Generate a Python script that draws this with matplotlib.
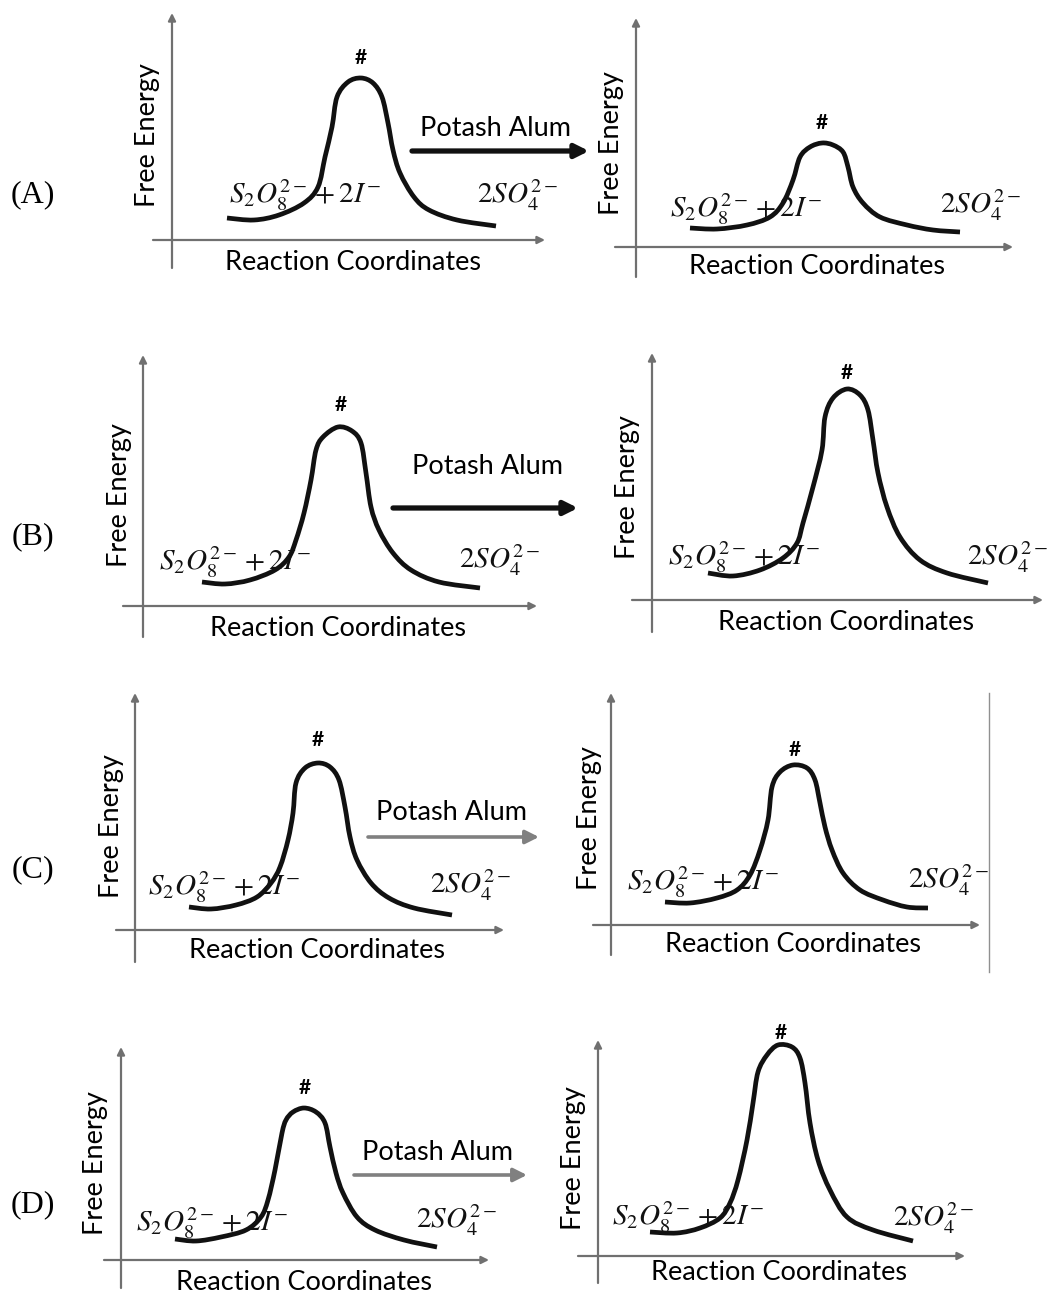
import numpy as np
import matplotlib.pyplot as plt
from matplotlib.path import Path
from matplotlib.patches import PathPatch

# canvas size in pixels (dpi 100)
W, H = 1052, 1292

# texts
row_labels = ['(A)', '(B)', '(C)', '(D)']
catalyst = 'Potash Alum'
reactants = r'$S_2O_8^{2-}+2I^{-}$'
products = r'$2SO_4^{2-}$'
x_title = 'Reaction Coordinates'
y_title = 'Free Energy'

# energy profiles: reaction coordinate and free energy
# (arbitrary units, measured from the axis origin of each panel)
a_left_x = [55, 82, 107, 132, 146, 153, 160, 165, 176, 189, 201, 210, 216, 221, 228, 242, 257, 285, 324]
a_left_g = [22, 20, 25, 37, 53, 83, 113, 143, 158, 162, 157, 143, 117, 90, 67, 43, 30, 20, 14]
a_right_x = [54, 81, 111, 134, 147, 157, 164, 174, 186, 197, 207, 212, 217, 227, 244, 271, 297, 324]
a_right_g = [19, 18, 22, 30, 44, 67, 90, 100, 104, 102, 95, 80, 60, 44, 30, 22, 17, 15]

b_left_x = [59, 82, 107, 132, 146, 153, 161, 168, 173, 180, 195, 209, 218, 223, 228, 236, 250, 268, 296, 337]
b_left_g = [24, 22, 26, 36, 49, 66, 93, 126, 156, 169, 179, 175, 163, 133, 99, 76, 53, 36, 24, 18]
b_right_x = [56, 81, 108, 131, 145, 151, 161, 170, 173, 181, 195, 208, 216, 221, 226, 235, 248, 268, 295, 336]
b_right_g = [27, 24, 30, 42, 57, 77, 113, 150, 183, 202, 211, 205, 190, 160, 127, 93, 63, 40, 27, 17]

c_left_x = [54, 76, 101, 122, 136, 145, 153, 158, 161, 170, 183, 195, 204, 210, 215, 222, 236, 254, 279, 317]
c_left_g = [23, 21, 25, 33, 47, 63, 90, 117, 147, 162, 167, 163, 150, 123, 93, 70, 47, 32, 22, 15]
c_right_x = [54, 79, 106, 126, 139, 149, 157, 161, 169, 182, 196, 204, 209, 214, 221, 232, 249, 272, 296, 317]
c_right_g = [23, 22, 27, 35, 50, 75, 105, 138, 153, 160, 157, 145, 122, 98, 75, 52, 35, 25, 18, 17]

d_left_x = [54, 75, 100, 125, 140, 147, 154, 161, 165, 172, 183, 195, 204, 209, 215, 222, 236, 254, 283, 316]
d_left_g = [21, 19, 23, 30, 43, 60, 90, 127, 140, 148, 152, 148, 137, 113, 87, 67, 43, 30, 20, 13]
d_right_x = [52, 79, 102, 122, 132, 140, 149, 155, 160, 169, 180, 194, 202, 207, 212, 220, 232, 249, 275, 315]
d_right_g = [24, 23, 28, 38, 53, 76, 116, 153, 184, 201, 211, 209, 198, 173, 133, 96, 66, 39, 26, 15]

curves = [(a_left_x, a_left_g), (a_right_x, a_right_g),
          (b_left_x, b_left_g), (b_right_x, b_right_g),
          (c_left_x, c_left_g), (c_right_x, c_right_g),
          (d_left_x, d_left_g), (d_right_x, d_right_g)]

# layout of every panel: origin in canvas px, axis extents, text anchors
panels = [
    dict(origin=(172, 240), xlim=(-19, 373), ylim=(-28, 227), hash=(189, 182), react=(57, 45), prod=(305, 45), fe=(-24, 105), rc=(181, -22)),
    dict(origin=(636, 247), xlim=(-21, 377), ylim=(-30, 229), hash=(186, 124), react=(34, 38), prod=(304, 42), fe=(-24, 104), rc=(181, -20)),
    dict(origin=(143, 606), xlim=(-20, 394), ylim=(-31, 251), hash=(198, 201), react=(16, 44), prod=(316, 46), fe=(-23, 111), rc=(195, -22)),
    dict(origin=(652, 600), xlim=(-20, 391), ylim=(-32, 247), hash=(195, 227), react=(16, 43), prod=(315, 43), fe=(-24, 113), rc=(194, -22)),
    dict(origin=(135, 930), xlim=(-19, 369), ylim=(-32, 237), hash=(183, 190), react=(13, 43), prod=(295, 45), fe=(-23, 104), rc=(182, -20)),
    dict(origin=(611, 925), xlim=(-18, 369), ylim=(-30, 232), hash=(184, 175), react=(16, 43), prod=(297, 45), fe=(-21, 107), rc=(182, -20)),
    dict(origin=(121, 1260), xlim=(-17, 368), ylim=(-28, 213), hash=(184, 172), react=(15, 37), prod=(295, 40), fe=(-25, 97), rc=(183, -22)),
    dict(origin=(598, 1256), xlim=(-20, 367), ylim=(-27, 216), hash=(183, 223), react=(14, 39), prod=(295, 38), fe=(-25, 98), rc=(181, -17)),
]

# catalyst arrows between the two panels of each row, canvas px
arrows = [
    dict(x=(412, 589), y=151, text=(495, 128), color='#111111', lw=3.8),
    dict(x=(393, 578), y=508, text=(488, 467), color='#111111', lw=3.8),
    dict(x=(368, 539), y=837, text=(452, 812), color='#808080', lw=2.6),
    dict(x=(354, 527), y=1175, text=(437, 1153), color='#808080', lw=2.6),
]
label_pos = [(33, 195), (33, 537), (33, 870), (33, 1205)]

plt.rcParams['mathtext.fontset'] = 'stix'
SANS = 'Lato'
TXT_SIZE = 19.5
MATH_SIZE = 21
AXIS_COLOR = '#707070'
CURVE_COLOR = '#111111'


def smooth_path(xs, ys):
    # catmull-rom through the read points, drawn as cubic bezier segments
    pts = np.column_stack([xs, ys]).astype(float)
    n = len(pts)
    verts = [pts[0]]
    codes = [Path.MOVETO]
    for i in range(n - 1):
        p0 = pts[max(i - 1, 0)]
        p1 = pts[i]
        p2 = pts[i + 1]
        p3 = pts[min(i + 2, n - 1)]
        verts += [p1 + (p2 - p0) / 6, p2 - (p3 - p1) / 6, p2]
        codes += [Path.CURVE4] * 3
    return Path(verts, codes)


def draw_panel(spec, xs, gs):
    ox, oy = spec['origin']
    x0, x1 = spec['xlim']
    y0, y1 = spec['ylim']
    ax = fig.add_axes([(ox + x0) / W, (H - oy + y0) / H, (x1 - x0) / W, (y1 - y0) / H])
    ax.set_xlim(x0, x1)
    ax.set_ylim(y0, y1)
    ax.axis('off')

    arrow_kw = dict(arrowstyle='-|>', color=AXIS_COLOR, lw=1.6, mutation_scale=11, shrinkA=0, shrinkB=0)
    ax.annotate('', xy=(x1, 0), xytext=(x0, 0), arrowprops=arrow_kw, annotation_clip=False)
    ax.annotate('', xy=(0, y1), xytext=(0, y0), arrowprops=arrow_kw, annotation_clip=False)

    ax.add_patch(PathPatch(smooth_path(xs, gs), fill=False, edgecolor=CURVE_COLOR, lw=3.4,
                           capstyle='butt', joinstyle='round', clip_on=False))

    ax.text(*spec['hash'], '#', ha='center', va='center', fontsize=15, fontweight='bold', family=SANS)
    ax.text(*spec['react'], reactants, ha='left', va='center', fontsize=MATH_SIZE, color='#111111')
    ax.text(*spec['prod'], products, ha='left', va='center', fontsize=MATH_SIZE, color='#111111')
    ax.text(*spec['fe'], y_title, rotation=90, ha='center', va='center', fontsize=TXT_SIZE, family=SANS)
    ax.text(*spec['rc'], x_title, ha='center', va='center', fontsize=TXT_SIZE, family=SANS)


fig = plt.figure(figsize=(W / 100, H / 100), dpi=100)

# overlay in canvas pixels for row labels and catalyst arrows
over = fig.add_axes([0, 0, 1, 1])
over.set_xlim(0, W)
over.set_ylim(H, 0)
over.axis('off')

for spec, (xs, gs) in zip(panels, curves):
    draw_panel(spec, xs, gs)

for lab, (lx, ly) in zip(row_labels, label_pos):
    over.text(lx, ly, lab, ha='center', va='center', fontsize=23, family='Liberation Serif')

for arr in arrows:
    over.annotate('', xy=(arr['x'][1], arr['y']), xytext=(arr['x'][0], arr['y']),
                  arrowprops=dict(arrowstyle='-|>', color=arr['color'], lw=arr['lw'],
                                  mutation_scale=20, shrinkA=0, shrinkB=0))
    over.text(*arr['text'], catalyst, ha='center', va='center', fontsize=TXT_SIZE, family=SANS)

# page edge visible to the right of row C
over.plot([989, 989], [693, 972], color='#909090', lw=1)

fig.savefig('out.png', dpi=100, facecolor='white')
